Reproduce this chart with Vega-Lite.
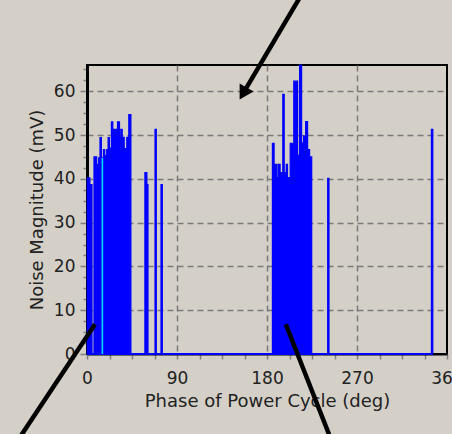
{
  "$schema": "https://vega.github.io/schema/vega-lite/v6.json",
  "width": 360,
  "height": 289,
  "autosize": {"type": "none"},
  "padding": {"left": 87, "top": 65, "right": 5, "bottom": 80},
  "background": "#d4d0c8",
  "config": {
    "view": {"stroke": "#000000", "strokeWidth": 2, "fill": "#d4d0c8"},
    "font": "DejaVu Sans"
  },
  "datasets": {
    "bars": [
      {"a": 0.3, "b": 2.9, "v": 40.2}, {"a": 2.9, "b": 5.0, "v": 38.7},
      {"a": 7.0, "b": 9.7, "v": 45.0}, {"a": 9.7, "b": 11.7, "v": 43.3},
      {"a": 11.7, "b": 13.0, "v": 44.8}, {"a": 13.0, "b": 14.4, "v": 49.4},
      {"a": 14.4, "b": 16.4, "v": 44.8}, {"a": 16.4, "b": 17.7, "v": 46.7},
      {"a": 17.7, "b": 19.7, "v": 45.3}, {"a": 19.7, "b": 21.1, "v": 46.7},
      {"a": 21.1, "b": 22.4, "v": 49.4}, {"a": 22.4, "b": 24.4, "v": 47.0},
      {"a": 24.4, "b": 25.8, "v": 53.0}, {"a": 25.8, "b": 30.5, "v": 51.3},
      {"a": 30.5, "b": 32.5, "v": 53.0}, {"a": 32.5, "b": 33.8, "v": 49.5},
      {"a": 33.8, "b": 35.2, "v": 51.3}, {"a": 35.2, "b": 37.2, "v": 49.5},
      {"a": 37.2, "b": 39.8, "v": 46.9}, {"a": 39.8, "b": 41.8, "v": 49.5},
      {"a": 41.8, "b": 43.9, "v": 54.7},
      {"a": 57.9, "b": 59.9, "v": 41.4}, {"a": 59.9, "b": 61.0, "v": 38.7},
      {"a": 68.0, "b": 69.3, "v": 51.3}, {"a": 74.0, "b": 75.3, "v": 38.7},
      {"a": 185.4, "b": 187.1, "v": 48.1}, {"a": 187.1, "b": 189.8, "v": 43.3},
      {"a": 189.8, "b": 191.1, "v": 40.3}, {"a": 191.1, "b": 193.1, "v": 43.3},
      {"a": 193.1, "b": 195.8, "v": 41.4}, {"a": 195.8, "b": 197.2, "v": 59.3},
      {"a": 197.2, "b": 199.2, "v": 41.4}, {"a": 199.2, "b": 200.5, "v": 43.3},
      {"a": 200.5, "b": 203.2, "v": 40.3}, {"a": 203.2, "b": 206.8, "v": 48.1},
      {"a": 206.8, "b": 210.6, "v": 62.3}, {"a": 210.6, "b": 212.6, "v": 45.4},
      {"a": 212.6, "b": 214.6, "v": 65.9}, {"a": 214.6, "b": 216.6, "v": 48.2},
      {"a": 216.6, "b": 218.6, "v": 49.8}, {"a": 218.6, "b": 220.6, "v": 53.1},
      {"a": 220.6, "b": 222.6, "v": 46.7}, {"a": 222.6, "b": 224.7, "v": 45.0},
      {"a": 240.7, "b": 242.0, "v": 40.1}, {"a": 344.4, "b": 345.8, "v": 51.3}
    ],
    "baseline": [{"a": 0, "b": 345.6, "v": 0}],
    "cyan": [{"a": 15.4, "v": 44.8}],
    "arrows": [
      {"a": 216.4, "b": 156.1, "v": 82.8, "v2": 59.5},
      {"a": -72.9, "b": 8.0, "v": -21, "v2": 6.8},
      {"a": 246.6, "b": 198.8, "v": -21, "v2": 6.8}
    ],
    "heads": [{"a": 156.1, "v": 59.5}]
  },
  "encoding": {
    "x": {
      "field": "a",
      "type": "quantitative",
      "scale": {"domain": [0, 360], "nice": false, "zero": false},
      "axis": {
        "title": "Phase of Power Cycle (deg)",
        "values": [0, 22.5, 45, 67.5, 90, 112.5, 135, 157.5, 180, 202.5, 225, 247.5, 270, 292.5, 315, 337.5, 360],
        "labelExpr": "datum.value % 90 === 0 ? datum.label : ''",
        "labelOverlap": false,
        "labelFlush": false,
        "grid": true,
        "gridOpacity": {"condition": {"test": "datum.value % 90 === 0 && datum.value > 0 && datum.value < 360", "value": 1}, "value": 0},
        "gridDash": [6, 4],
        "gridColor": "#7a7a7a",
        "gridWidth": 1.5,
        "domainColor": "#000000",
        "domainWidth": 2,
        "tickColor": "#808080",
        "tickSize": 5,
        "tickWidth": 1.5,
        "labelFontSize": 17,
        "labelColor": "#222222",
        "labelPadding": 11,
        "titleFontSize": 18,
        "titleFontWeight": "normal",
        "titleColor": "#222222",
        "titlePadding": 6
      }
    },
    "y": {
      "field": "v",
      "type": "quantitative",
      "scale": {"domain": [0, 66], "nice": false},
      "axis": {
        "title": "Noise Magnitude (mV)",
        "values": [0, 2.5, 5, 7.5, 10, 12.5, 15, 17.5, 20, 22.5, 25, 27.5, 30, 32.5, 35, 37.5, 40, 42.5, 45, 47.5, 50, 52.5, 55, 57.5, 60, 62.5, 65],
        "labelExpr": "datum.value % 10 === 0 ? datum.label : ''",
        "labelOverlap": false,
        "labelFlush": false,
        "grid": true,
        "gridOpacity": {"condition": {"test": "datum.value % 10 === 0 && datum.value > 0", "value": 1}, "value": 0},
        "gridDash": [6, 4],
        "gridColor": "#7a7a7a",
        "gridWidth": 1.5,
        "domainColor": "#000000",
        "domainWidth": 3,
        "tickColor": "#808080",
        "tickSize": {"condition": {"test": "datum.value % 10 === 0", "value": 7}, "value": 4},
        "tickWidth": 1.5,
        "labelFontSize": 17,
        "labelColor": "#222222",
        "labelPadding": 5,
        "titleFontSize": 18,
        "titleFontWeight": "normal",
        "titleColor": "#222222",
        "titlePadding": 7
      }
    }
  },
  "layer": [
    {
      "data": {"name": "bars"},
      "mark": {"type": "rect", "color": "#0000ff", "stroke": "#0000ff", "strokeWidth": 1.2, "strokeJoin": "miter"},
      "encoding": {"x2": {"field": "b"}, "y2": {"datum": 0}}
    },
    {
      "data": {"name": "baseline"},
      "mark": {"type": "rule", "color": "#0000ff", "strokeWidth": 2},
      "encoding": {"x2": {"field": "b"}}
    },
    {
      "data": {"name": "cyan"},
      "mark": {"type": "rule", "color": "#00d8ff", "strokeWidth": 1.6},
      "encoding": {"y2": {"datum": 0}}
    },
    {
      "data": {"name": "arrows"},
      "mark": {"type": "rule", "color": "#000000", "strokeWidth": 4.5, "clip": false},
      "encoding": {"x2": {"field": "b"}, "y2": {"field": "v2"}}
    },
    {
      "data": {"name": "heads"},
      "mark": {"type": "point", "shape": "triangle-up", "filled": true, "color": "#000000", "opacity": 1, "size": 260, "angle": 210},
      "encoding": {}
    }
  ]
}
